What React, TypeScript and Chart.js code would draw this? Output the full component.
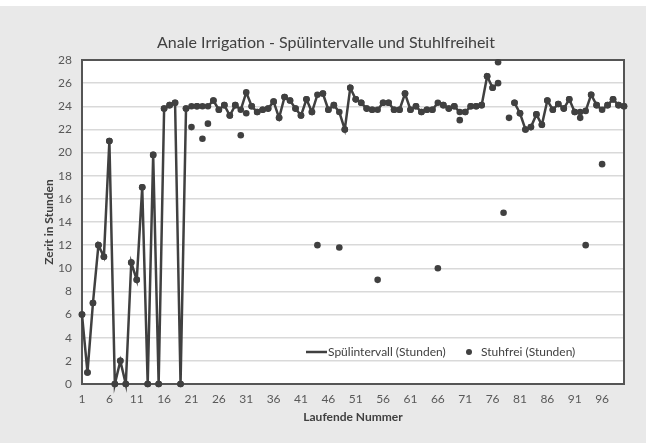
import React, { useEffect, useRef } from 'react';
import { Chart, registerables } from 'chart.js';

Chart.register(...registerables);

const categories: string[] = Array.from({ length: 100 }, (_, i) => String(i + 1));

const spuelintervall: (number | null)[] = [
  6, 1, 7, 12, 11, 21, 0, 2, 0, 10.5,
  9, 17, 0, 19.8, 0, 23.8, 24.1, 24.3, 0, 23.8,
  24.0, 24.0, 24.0, 24.0, 24.5, 23.7, 24.1, 23.2, 24.1, 23.7,
  25.2, 24.0, 23.5, 23.7, 23.8, 24.4, 23.0, 24.8, 24.5, 23.8,
  23.2, 24.6, 23.5, 25.0, 25.1, 23.7, 24.1, 23.5, 22.0, 25.6,
  24.6, 24.3, 23.8, 23.7, 23.7, 24.3, 24.3, 23.7, 23.7, 25.1,
  23.7, 24.0, 23.5, 23.7, 23.7, 24.3, 24.1, 23.8, 24.0, 23.5,
  23.5, 24.0, 24.0, 24.1, 26.6, 25.6, 26.0, null, null, 24.3,
  23.4, 22.0, 22.2, 23.3, 22.4, 24.5, 23.7, 24.2, 23.8, 24.6,
  23.5, 23.5, 23.6, 25.0, 24.1, 23.7, 24.1, 24.6, 24.1, 24.0,
];

const stuhlfrei: (number | null)[] = [
  6, 1, 7, 12, 11, 21, 0, 2, 0, 10.5,
  9, 17, 0, 19.8, 0, 23.8, 24.1, 24.3, 0, 23.8,
  22.2, 24.0, 21.2, 22.5, 24.5, 23.7, 24.1, 23.2, 24.1, 21.5,
  23.4, 24.0, 23.5, 23.7, 23.8, 24.4, 23.0, 24.8, 24.5, 23.8,
  23.2, 24.6, 23.5, 12, 25.1, 23.7, 24.1, 11.8, 22.0, 25.6,
  24.6, 24.3, 23.8, 23.7, 9, 24.3, 24.3, 23.7, 23.7, 25.1,
  23.7, 24.0, 23.5, 23.7, 23.7, 10, 24.1, 23.8, 24.0, 22.8,
  23.5, 24.0, 24.0, 24.1, 26.6, 25.6, 27.8, 14.8, 23.0, 24.3,
  23.4, 22.0, 22.2, 23.3, 22.4, 24.5, 23.7, 24.2, 23.8, 24.6,
  23.5, 23.0, 12, 25.0, 24.1, 19, 24.1, 24.6, 24.1, 24.0,
];

const seriesLabels = ['Spülintervall (Stunden)', 'Stuhfrei (Stunden)'];
const chartTitle = 'Anale Irrigation - Spülintervalle und Stuhlfreiheit';
const xAxisTitle = 'Laufende Nummer';
const yAxisTitle = 'Zerit in Stunden';
const yMin = 0;
const yMax = 28;
const yStep = 2;
const xLabelEvery = 5;

const FONT = "Lato, 'Open Sans', 'Liberation Sans', sans-serif";
const DARK = '#404040';
const TICK = '#595959';

const bgPlugin = {
  id: 'bgPlugin',
  beforeDraw(chart: any) {
    const { ctx, width, height, chartArea } = chart;
    ctx.save();
    ctx.fillStyle = '#ffffff';
    ctx.fillRect(0, 0, width, height);
    ctx.fillStyle = '#e9e9e9';
    ctx.fillRect(0, 6, width, height - 6);
    ctx.fillStyle = '#ffffff';
    ctx.fillRect(chartArea.left, chartArea.top, chartArea.right - chartArea.left, chartArea.bottom - chartArea.top);
    ctx.restore();
  },
  beforeDatasetsDraw(chart: any) {
    const { ctx, chartArea } = chart;
    ctx.save();
    ctx.strokeStyle = '#555555';
    ctx.lineWidth = 2;
    ctx.strokeRect(chartArea.left, chartArea.top, chartArea.right - chartArea.left, chartArea.bottom - chartArea.top);
    ctx.restore();
  },
};

const legendPlugin = {
  id: 'insideLegend',
  afterDraw(chart: any) {
    const { ctx, chartArea } = chart;
    const ds = chart.data.datasets;
    const y = chartArea.bottom - 32;
    const l = chartArea.left;
    ctx.save();
    ctx.font = `12px ${FONT}`;
    ctx.fillStyle = DARK;
    ctx.textBaseline = 'middle';
    ctx.textAlign = 'left';
    ctx.strokeStyle = ds[0].borderColor;
    ctx.lineWidth = 2.5;
    ctx.beginPath();
    ctx.moveTo(l + 224, y);
    ctx.lineTo(l + 245, y);
    ctx.stroke();
    ctx.fillText(ds[0].label, l + 246, y);
    ctx.fillStyle = ds[1].pointBackgroundColor;
    ctx.beginPath();
    ctx.arc(l + 387, y, 3, 0, Math.PI * 2);
    ctx.fill();
    ctx.fillStyle = DARK;
    ctx.fillText(ds[1].label, l + 399, y);
    ctx.restore();
  },
};

export default function App() {
  const ref = useRef<HTMLCanvasElement | null>(null);

  useEffect(() => {
    if (!ref.current) return;
    const chart = new Chart(ref.current, {
      type: 'line',
      data: {
        labels: categories,
        datasets: [
          {
            label: seriesLabels[0],
            data: spuelintervall,
            borderColor: DARK,
            backgroundColor: DARK,
            borderWidth: 2.5,
            pointRadius: 3.3,
            pointBackgroundColor: DARK,
            pointBorderColor: DARK,
            pointBorderWidth: 0,
            tension: 0,
            spanGaps: false,
            clip: false as any,
          },
          {
            label: seriesLabels[1],
            data: stuhlfrei,
            showLine: false,
            borderColor: DARK,
            backgroundColor: DARK,
            pointRadius: 3.3,
            pointBackgroundColor: DARK,
            pointBorderColor: DARK,
            pointBorderWidth: 0,
            clip: false as any,
          },
        ],
      },
      options: {
        responsive: false,
        animation: false,
        events: [],
        layout: { padding: { left: 6, right: 0, top: 0, bottom: 0 } },
        plugins: {
          legend: { display: false },
          tooltip: { enabled: false },
          title: {
            display: true,
            text: chartTitle,
            color: DARK,
            font: { family: FONT, size: 16, weight: 'normal', lineHeight: 1.2 },
            padding: { top: 33, bottom: 7.8 },
          },
        },
        scales: {
          x: {
            type: 'category',
            offset: false,
            grid: { display: false, drawTicks: false },
            border: { display: false },
            ticks: {
              autoSkip: false,
              maxRotation: 0,
              minRotation: 0,
              padding: 8,
              color: TICK,
              font: { family: FONT, size: 12 },
              callback: (_v: any, i: number) => (i % xLabelEvery === 0 ? categories[i] : ''),
            },
            title: {
              display: true,
              text: xAxisTitle,
              color: DARK,
              font: { family: FONT, size: 12, weight: 'bold', lineHeight: 1.2 },
              padding: { top: 0, bottom: 19 },
            },
            afterFit: (s: any) => { s.height = 59; },
          },
          y: {
            type: 'linear',
            min: yMin,
            max: yMax,
            grid: { color: '#d9d9d9', lineWidth: 1.5, drawTicks: false },
            border: { display: false },
            ticks: {
              stepSize: yStep,
              padding: 10,
              color: TICK,
              font: { family: FONT, size: 12 },
            },
            title: {
              display: true,
              text: yAxisTitle,
              color: DARK,
              font: { family: FONT, size: 12, weight: 'bold', lineHeight: 1.2 },
              padding: { top: 36, bottom: 0 },
            },
            afterFit: (s: any) => { s.width = 76; },
          },
          yR: {
            type: 'linear',
            position: 'right',
            min: 0,
            max: 1,
            grid: { display: false, drawOnChartArea: false, drawTicks: false },
            border: { display: false },
            ticks: { display: false },
            afterFit: (s: any) => { s.width = 22; },
          },
        },
      } as any,
      plugins: [bgPlugin, legendPlugin],
    });
    return () => chart.destroy();
  }, []);

  return (
    <div style={{ position: 'fixed', left: 0, top: 0, width: 646, height: 443 }}>
      <canvas ref={ref} width={646} height={443} />
    </div>
  );
}
